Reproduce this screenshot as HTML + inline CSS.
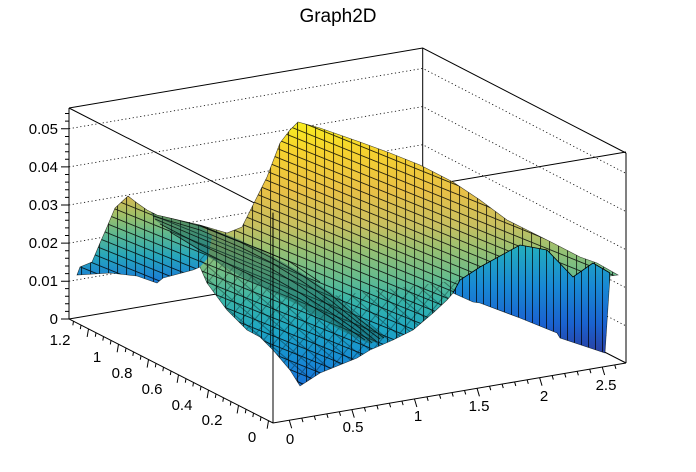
<!DOCTYPE html>
<html><head><meta charset="utf-8"><style>
html,body{margin:0;padding:0;background:#fff;}
svg{display:block;font-family:"Liberation Sans",sans-serif;}
</style></head><body>
<svg width="696" height="472" viewBox="0 0 696 472" xmlns="http://www.w3.org/2000/svg">
<defs>
<linearGradient id="gBig" gradientUnits="userSpaceOnUse" x1="0" y1="122" x2="0" y2="388">
<stop offset="0" stop-color="#f8ee20"/>
<stop offset="0.11" stop-color="#f6d22e"/>
<stop offset="0.26" stop-color="#e8c046"/>
<stop offset="0.39" stop-color="#c8c060"/>
<stop offset="0.48" stop-color="#98c072"/>
<stop offset="0.58" stop-color="#68bc8c"/>
<stop offset="0.67" stop-color="#38b4a8"/>
<stop offset="0.78" stop-color="#1ea6c2"/>
<stop offset="0.88" stop-color="#168ed2"/>
<stop offset="1" stop-color="#1a70d8"/>
</linearGradient>
<linearGradient id="gLeft" gradientUnits="userSpaceOnUse" x1="0" y1="196" x2="0" y2="282">
<stop offset="0" stop-color="#d8b852"/>
<stop offset="0.22" stop-color="#a0c068"/>
<stop offset="0.45" stop-color="#5cb890"/>
<stop offset="0.7" stop-color="#26a6bc"/>
<stop offset="1" stop-color="#1a7ad8"/>
</linearGradient>
<linearGradient id="gWall" gradientUnits="userSpaceOnUse" x1="0" y1="250" x2="0" y2="355">
<stop offset="0" stop-color="#22aac0"/>
<stop offset="0.35" stop-color="#1888d4"/>
<stop offset="0.7" stop-color="#1a62d0"/>
<stop offset="1" stop-color="#2a3ea0"/>
</linearGradient>
<pattern id="mesh" width="9" height="9" patternUnits="userSpaceOnUse" patternTransform="skewY(22)">
<path d="M0.5 0V9M0 0.5H9" stroke="#000" stroke-width="0.9" stroke-opacity="0.8" fill="none"/>
</pattern>
<pattern id="mesh2" width="10" height="10" patternUnits="userSpaceOnUse" patternTransform="rotate(40)">
<path d="M0.5 0V10M0 0.5H10" stroke="#000" stroke-width="0.9" stroke-opacity="0.75" fill="none"/>
</pattern>
<pattern id="vstripe" width="7" height="400" patternUnits="userSpaceOnUse">
<path d="M0.5 0V400" stroke="#000" stroke-width="0.9" stroke-opacity="0.8"/>
</pattern>
<clipPath id="surfClip"><path id="silh" d="M77,275 L80,267 L92,262 L100,243 L107,227 L115,208 L128,196 L137,203 L147,210 L157,215 L170,218 L200,225 L227,233 L242,227 L257,197 L267,177 L280,143 L290,130 L298,122 L320,128 L360,142 L390,153 L420,165 L453,182 L480,200 L507,220 L533,233 L553,243 L580,257 L597,263 L618,275 L610,276 L605,353 L560,338 L557,333 L520,318 L480,303 L473,302 L453,293 L447,300 L433,313 L413,330 L393,340 L370,350 L357,358 L320,373 L300,386 L290,370 L273,350 L260,337 L247,330 L227,310 L207,283 L200,267 L193,270 L163,278 L157,283 L137,276 L110,273 Z"/></clipPath>
<clipPath id="lowClip"><path d="M200,250 L300,300 L460,280 L460,400 L200,400 Z"/></clipPath>
</defs>

<text x="338" y="22" font-size="19" text-anchor="middle">Graph2D</text>

<g stroke="#000" stroke-width="0.8" stroke-dasharray="1.2,2.6" fill="none">
<path d="M69,281.2 L422.7,220.9 L626,325.9"/>
<path d="M69,243.1 L422.7,182.8 L626,287.8"/>
<path d="M69,205 L422.7,144.7 L626,249.7"/>
<path d="M69,166.9 L422.7,106.6 L626,211.6"/>
<path d="M69,128.7 L422.7,68.4 L626,173.4"/>
</g>
<g stroke="#000" stroke-width="1" fill="none">
<path d="M69,108 L422.7,48 L626,153"/>
<path d="M69,108 L273,212.6"/>
<path d="M422.7,48 V259"/>
<path d="M626,153 V363"/>
<path d="M69,319 L422.7,259 L626,363"/>
<path d="M422.7,186.4 L626,152"/>
</g>

<use href="#silh" fill="url(#gBig)"/>
<g clip-path="url(#surfClip)">
<path d="M77,275 L80,267 L92,262 L100,243 L107,227 L115,208 L128,196 L137,203 L147,210 L157,215 L170,218 L200,225 L212,236 L208,258 L200,267 L193,270 L163,278 L157,283 L137,276 L110,273 Z" fill="url(#gLeft)"/>
<rect x="60" y="100" width="600" height="300" fill="url(#mesh)"/>
<g clip-path="url(#lowClip)"><rect x="60" y="100" width="600" height="300" fill="url(#mesh2)" opacity="0.5"/></g>
<path d="M150,211 L200,224 L240,240 L270,255 L300,272 L330,292 L360,318 L385,337 L370,344 L340,330 L300,306 L270,291 L240,276 L210,258 L180,238 L155,220 Z" fill="#1a5a50" fill-opacity="0.45"/>
<g stroke="#000" stroke-width="0.8" stroke-opacity="0.8" fill="none">
<path d="M152,213 L200,226 L240,242 L270,257 L300,274 L330,294 L360,320 L384,338"/>
<path d="M153,216 L200,230 L240,247 L270,262 L300,280 L330,300 L360,324 L380,339"/>
<path d="M155,219 L195,236 L238,254 L270,268 L300,286 L330,306 L360,328 L376,341"/>
<path d="M160,224 L195,242 L238,262 L270,276 L300,293 L330,312 L360,333 L372,343"/>
<path d="M170,232 L200,250 L240,270 L270,284 L300,299 L335,320 L365,340"/>
<path d="M200,225 L230,238 L262,250 L290,262 L320,282"/>
</g>
<path d="M453,293 L460,280 L480,267 L520,245 L547,250 L573,277 L593,263 L610,273 L605,353 L560,338 L557,333 L520,318 L480,303 L473,302 Z" fill="url(#gWall)"/>
<path d="M453,293 L460,280 L480,267 L520,245 L547,250 L573,277 L593,263 L610,273 L605,353 L560,338 L557,333 L520,318 L480,303 L473,302 Z" fill="url(#vstripe)"/>
<path d="M453,293 L460,280 L480,267 L520,245 L547,250 L573,277 L593,263 L610,273" stroke="#000" stroke-width="0.8" fill="none"/>
</g>
<use href="#silh" fill="none" stroke="#000" stroke-width="0.6" stroke-opacity="0.7"/>

<g stroke="#000" stroke-width="1" fill="none">
<path d="M273,212.6 V423"/>
<path d="M69,108 V319 L273,423 L626,363"/>
</g>

<g stroke="#000" stroke-width="1">
<path d="M61,319H69M61,281.2H69M61,243.1H69M61,205H69M61,166.9H69M61,128.7H69"/>
<path d="M65,311.4H69M65,303.8H69M65,296.2H69M65,288.6H69M65,273.6H69M65,266H69M65,258.3H69M65,250.7H69M65,235.5H69M65,227.9H69M65,220.3H69M65,212.6H69M65,197.4H69M65,189.8H69M65,182.1H69M65,174.5H69M65,159.3H69M65,151.7H69M65,144.1H69M65,136.5H69M65,121.1H69M65,113.5H69"/>
</g>
<g font-size="15" text-anchor="end">
<text x="58" y="324">0</text>
<text x="58" y="286">0.01</text>
<text x="58" y="248">0.02</text>
<text x="58" y="210">0.03</text>
<text x="58" y="172">0.04</text>
<text x="58" y="134">0.05</text>
</g>

<g stroke="#000" stroke-width="1" id="yt"></g>
<g stroke="#000" stroke-width="1" id="xt"></g>
<script>
(function(){
var ns="http://www.w3.org/2000/svg";
var yt=document.getElementById("yt"),xt=document.getElementById("xt");
function ln(g,x1,y1,x2,y2){var l=document.createElementNS(ns,"line");l.setAttribute("x1",x1);l.setAttribute("y1",y1);l.setAttribute("x2",x2);l.setAttribute("y2",y2);g.appendChild(l);}
for(var i=0;i<=26;i++){var v=i*0.05;var s=(v+0.03)/1.36;var x=273-204*s,y=423-104*s;var L=(i%4==0)?8:4;ln(yt,x,y,x-0.17*L,y+L);}
for(var j=0;j<=26;j++){var t=j*0.1;var s2=(t+0.13)/2.82;var x2=273+353*s2,y2=423-60*s2;var L2=(j%5==0)?8:4;ln(xt,x2,y2,x2+0.3*L2,y2+L2);}
})();
</script>
<g font-size="15" text-anchor="middle">
<text x="60" y="345">1.2</text>
<text x="97" y="362">1</text>
<text x="122" y="378">0.8</text>
<text x="152" y="394">0.6</text>
<text x="182" y="410">0.4</text>
<text x="212" y="425">0.2</text>
<text x="252" y="442">0</text>
<text x="290" y="444">0</text>
<text x="353" y="432">0.5</text>
<text x="418" y="421">1</text>
<text x="479" y="411">1.5</text>
<text x="544" y="401">2</text>
<text x="606" y="390">2.5</text>
</g>
</svg>
</body></html>
